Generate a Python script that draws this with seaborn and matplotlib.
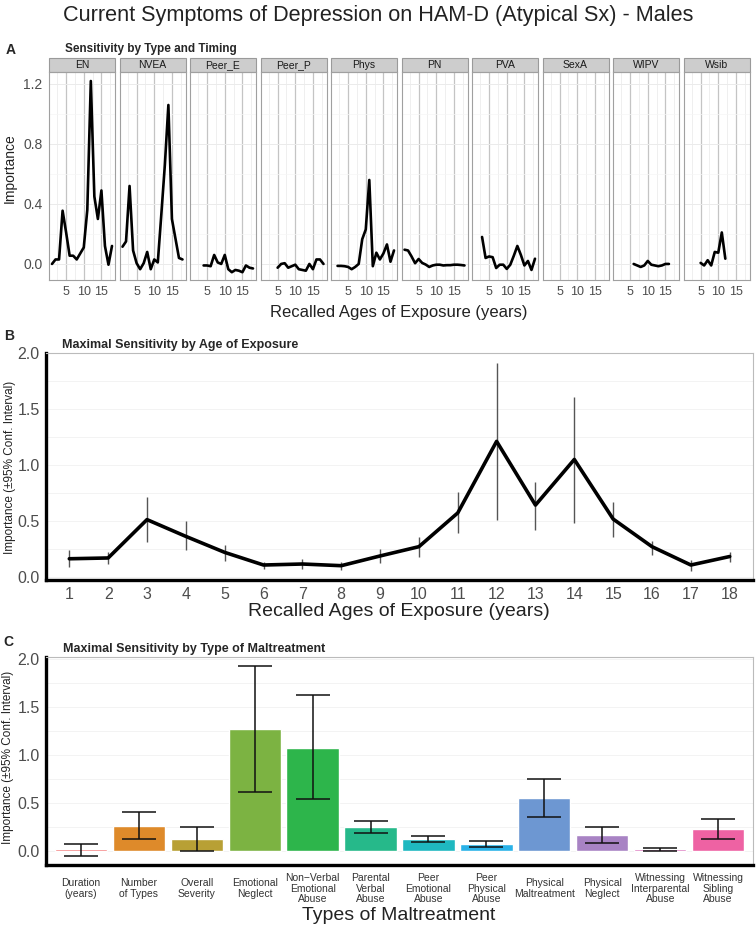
import numpy as np
import pandas as pd
import matplotlib
matplotlib.use("Agg")
import matplotlib.pyplot as plt
import seaborn as sns
from matplotlib.patches import Rectangle
from matplotlib.ticker import FormatStrFormatter

W, H = 756, 931

# ---- panel A: importance by type and age of exposure ----
facet_names = ["EN", "NVEA", "Peer_E", "Peer_P", "Phys", "PN", "PVA", "SexA", "WIPV", "Wsib"]

en_ages = list(range(1, 19))
en_imp = [0.0, 0.03, 0.03, 0.355, 0.21, 0.055, 0.055, 0.03, 0.07, 0.11, 0.36, 1.22,
          0.45, 0.3, 0.49, 0.12, -0.005, 0.12]
nvea_ages = list(range(1, 19))
nvea_imp = [0.115, 0.15, 0.52, 0.09, 0.005, -0.035, 0.005, 0.08, -0.035, 0.03, 0.01, 0.33,
            0.66, 1.06, 0.3, 0.17, 0.04, 0.03]
peer_e_ages = list(range(4, 19))
peer_e_imp = [-0.01, -0.01, -0.015, 0.06, 0.01, 0.0, 0.06, -0.035, -0.055, -0.04, -0.045,
              -0.055, -0.01, -0.025, -0.03]
peer_p_ages = list(range(5, 19))
peer_p_imp = [-0.025, 0.0, 0.005, -0.025, -0.015, -0.005, -0.035, -0.04, -0.045, 0.0,
              -0.035, 0.03, 0.03, 0.0]
phys_ages = list(range(2, 19))
phys_imp = [-0.013, -0.013, -0.015, -0.02, -0.035, -0.02, 0.0, 0.165, 0.23, 0.56, -0.015,
            0.075, 0.03, 0.07, 0.13, 0.015, 0.09]
pn_ages = list(range(1, 19))
pn_imp = [0.095, 0.09, 0.05, 0.005, 0.033, 0.007, -0.004, -0.02, -0.01, -0.005, -0.005,
          -0.01, -0.008, -0.008, -0.005, -0.005, -0.007, -0.01]
pva_ages = list(range(3, 19))
pva_imp = [0.18, 0.04, 0.05, 0.045, -0.027, -0.005, -0.005, -0.033, -0.005, 0.055, 0.12,
           0.06, -0.01, 0.02, -0.04, 0.035]
sexa_ages = []
sexa_imp = []
wipv_ages = list(range(6, 17))
wipv_imp = [0.0, -0.01, -0.02, -0.01, 0.02, -0.005, -0.01, -0.015, -0.01, 0.0, 0.0]
wsib_ages = list(range(5, 13))
wsib_imp = [0.007, -0.01, 0.025, -0.01, 0.08, 0.075, 0.21, 0.035]

# ---- panel B: max sensitivity by age ----
b_ages = list(range(1, 19))
b_imp = [0.16, 0.167, 0.51, 0.36, 0.217, 0.104, 0.113, 0.098, 0.185, 0.268, 0.57, 1.21,
         0.64, 1.048, 0.515, 0.268, 0.104, 0.18]
b_lo = [0.083, 0.11, 0.31, 0.24, 0.14, 0.065, 0.07, 0.06, 0.125, 0.173, 0.387, 0.506,
        0.42, 0.476, 0.357, 0.196, 0.054, 0.134]
b_hi = [0.24, 0.22, 0.71, 0.5, 0.28, 0.13, 0.155, 0.134, 0.25, 0.357, 0.76, 1.91,
        0.85, 1.61, 0.667, 0.318, 0.149, 0.217]

# ---- panel C: max sensitivity by type ----
c_types = ["Duration\n(years)", "Number\nof Types", "Overall\nSeverity", "Emotional\nNeglect",
           "Non\u2212Verbal\nEmotional\nAbuse", "Parental\nVerbal\nAbuse", "Peer\nEmotional\nAbuse",
           "Peer\nPhysical\nAbuse", "Physical\nMaltreatment", "Physical\nNeglect",
           "Witnessing\nInterparental\nAbuse", "Witnessing\nSibling\nAbuse"]
c_imp = [0.02, 0.26, 0.118, 1.272, 1.075, 0.243, 0.121, 0.066, 0.551, 0.163, 0.02, 0.222]
c_lo = [-0.055, 0.118, 0.0, 0.613, 0.534, 0.18, 0.087, 0.035, 0.354, 0.076, 0.0, 0.118]
c_hi = [0.07, 0.405, 0.243, 1.927, 1.619, 0.305, 0.156, 0.1, 0.752, 0.25, 0.031, 0.33]
c_colors = ["#F26B6B", "#DE8A2A", "#B8A035", "#7CB342", "#2DB54B", "#26B98A",
            "#1FB8C0", "#2AB2E8", "#6D97D2", "#A883C4", "#D968B8", "#EE62A3"]

sns.set_style("white")
plt.rcParams["font.family"] = ["Liberation Sans", "DejaVu Sans"]
TICK_C = "#4D4D4D"


def box(l, t, r, b):
    return [l / W, 1 - b / H, (r - l) / W, (b - t) / H]


fig = plt.figure(figsize=(W / 100, H / 100), dpi=100)

fig.text(0.5, 1 - 16 / H, "Current Symptoms of Depression on HAM-D (Atypical Sx) - Males",
         ha="center", va="center", fontsize=15.6, color="#222222")

# ---------------- Panel A ----------------
series_a = {
    "EN": (en_ages, en_imp), "NVEA": (nvea_ages, nvea_imp), "Peer_E": (peer_e_ages, peer_e_imp),
    "Peer_P": (peer_p_ages, peer_p_imp), "Phys": (phys_ages, phys_imp), "PN": (pn_ages, pn_imp),
    "PVA": (pva_ages, pva_imp), "SexA": (sexa_ages, sexa_imp), "WIPV": (wipv_ages, wipv_imp),
    "Wsib": (wsib_ages, wsib_imp),
}
rows = []
for name, (ages, vals) in series_a.items():
    for a, v in zip(ages, vals):
        rows.append({"type": name, "age": a, "imp": v})
df_a = pd.DataFrame(rows)

top_a, bot_a = 72, 280
strip_h = 14
for i, name in enumerate(facet_names):
    l = 49 + i * 70.5
    ax = fig.add_axes(box(l, top_a, l + 66, bot_a))
    sub = df_a[df_a["type"] == name]
    if len(sub):
        sns.lineplot(data=sub, x="age", y="imp", ax=ax, color="black", lw=1.9,
                     errorbar=None)
    ax.set_xlim(0.15, 18.85)
    ax.set_ylim(-0.107, 1.28)
    ax.set_xticks([5, 10, 15])
    ax.set_xticks([2.5, 7.5, 12.5, 17.5], minor=True)
    ax.set_yticks([0.0, 0.4, 0.8, 1.2])
    ax.set_yticks([0.2, 0.6, 1.0], minor=True)
    ax.yaxis.set_major_formatter(FormatStrFormatter("%.1f"))
    ax.grid(which="major", axis="x", color="#C4C4C4", lw=0.9)
    ax.grid(which="minor", axis="x", color="#EDEDED", lw=0.6)
    ax.grid(which="major", axis="y", color="#EBEBEB", lw=0.7)
    ax.grid(which="minor", axis="y", color="#F5F5F5", lw=0.5)
    ax.set_axisbelow(True)
    for s in ax.spines.values():
        s.set_color("#A0A0A0")
        s.set_linewidth(0.8)
    ax.tick_params(which="major", length=3, width=0.7, color="#555555", labelsize=9,
                   labelcolor=TICK_C, pad=1.5)
    ax.tick_params(which="minor", length=0)
    if i > 0:
        ax.tick_params(axis="y", left=False, labelleft=False)
    else:
        ax.tick_params(axis="y", labelsize=10)
    ax.set_xlabel("")
    ax.set_ylabel("")
    frac = strip_h / (bot_a - top_a)
    ax.add_patch(Rectangle((0, 1), 1, frac, transform=ax.transAxes, clip_on=False,
                           facecolor="#CDCDCD", edgecolor="#9A9A9A", lw=0.8))
    ax.text(0.5, 1 + frac / 2, name, transform=ax.transAxes, ha="center", va="center",
            fontsize=7.5, color="#1A1A1A")

fig.text(11 / W, 1 - 50 / H, "A", ha="center", va="center", fontsize=10, fontweight="bold")
fig.text(65 / W, 1 - 49 / H, "Sensitivity by Type and Timing", ha="left", va="center",
         fontsize=8.5, fontweight="bold")
fig.text(10 / W, 1 - 168 / H, "Importance", rotation=90, ha="center", va="center",
         fontsize=10, color="#222222")
fig.text(399 / W, 1 - 312 / H, "Recalled Ages of Exposure (years)", ha="center", va="center",
         fontsize=12, color="#222222")


def style_panel(ax):
    for side in ["top", "right"]:
        ax.spines[side].set_color("#BBBBBB")
        ax.spines[side].set_linewidth(0.8)
    for side in ["left", "bottom"]:
        ax.spines[side].set_color("black")
        ax.spines[side].set_linewidth(2.4)
    ax.set_yticks([0.0, 0.5, 1.0, 1.5, 2.0])
    ax.set_yticks([0.25, 0.75, 1.25, 1.75], minor=True)
    ax.yaxis.set_major_formatter(FormatStrFormatter("%.1f"))
    ax.grid(which="both", axis="y", color="#F3F3F3", lw=0.7)
    ax.grid(False, axis="x")
    ax.set_axisbelow(True)
    ax.tick_params(axis="y", which="major", length=3, width=0.7, color="#333333",
                   labelsize=11.5, labelcolor=TICK_C, pad=1.5)
    ax.tick_params(which="minor", length=0)
    ax.set_xlabel("")
    ax.set_ylabel("")


# ---------------- Panel B ----------------
axb = fig.add_axes(box(46, 353, 753, 580))
axb.vlines(b_ages, b_lo, b_hi, color="#555555", lw=1.0, zorder=2)
sns.lineplot(x=b_ages, y=b_imp, ax=axb, color="black", lw=2.6, errorbar=None, zorder=3)
axb.set_xlim(0.4, 18.6)
axb.set_ylim(-0.03, 2.0)
style_panel(axb)
axb.set_xticks(b_ages)
axb.tick_params(axis="x", length=0, labelsize=11.5, labelcolor=TICK_C, pad=5)

fig.text(9 / W, 1 - 336 / H, "B", ha="center", va="center", fontsize=10, fontweight="bold")
fig.text(62 / W, 1 - 345 / H, "Maximal Sensitivity by Age of Exposure", ha="left",
         va="center", fontsize=9, fontweight="bold")
fig.text(10 / W, 1 - 467 / H, "Importance (\u00b195% Conf. Interval)", rotation=90,
         ha="center", va="center", fontsize=8.5, color="#222222")
fig.text(399 / W, 1 - 612 / H, "Recalled Ages of Exposure (years)", ha="center",
         va="center", fontsize=14, color="#222222")

# ---------------- Panel C ----------------
df_c = pd.DataFrame({"type": c_types, "imp": c_imp})
axc = fig.add_axes(box(46, 657, 753, 865))
sns.barplot(data=df_c, x="type", y="imp", hue="type", palette=c_colors, legend=False,
            ax=axc, width=0.9, order=c_types, hue_order=c_types, errorbar=None,
            saturation=1)
pos = np.arange(len(c_types))
imp = np.array(c_imp)
axc.errorbar(pos, imp, yerr=[imp - np.array(c_lo), np.array(c_hi) - imp], fmt="none",
             ecolor="#111111", elinewidth=1.1, capsize=12.5, capthick=1.1, zorder=4)
axc.set_xlim(-0.6, len(c_types) - 0.4)
axc.set_ylim(-0.15, 2.02)
style_panel(axc)
axc.tick_params(axis="x", length=4, width=1.0, color="black", labelsize=7.5,
                labelcolor="#333333", pad=13)
for lab in axc.get_xticklabels():
    lab.set_verticalalignment("center")
    lab.set_linespacing(1.1)

fig.text(8 / W, 1 - 642 / H, "C", ha="center", va="center", fontsize=10, fontweight="bold")
fig.text(63 / W, 1 - 649 / H, "Maximal Sensitivity by Type of Maltreatment", ha="left",
         va="center", fontsize=9, fontweight="bold")
fig.text(8 / W, 1 - 757 / H, "Importance (\u00b195% Conf. Interval)", rotation=90,
         ha="center", va="center", fontsize=8.5, color="#222222")
fig.text(399 / W, 1 - 916 / H, "Types of Maltreatment", ha="center", va="center",
         fontsize=14, color="#222222")

fig.savefig("out.png", dpi=100)
